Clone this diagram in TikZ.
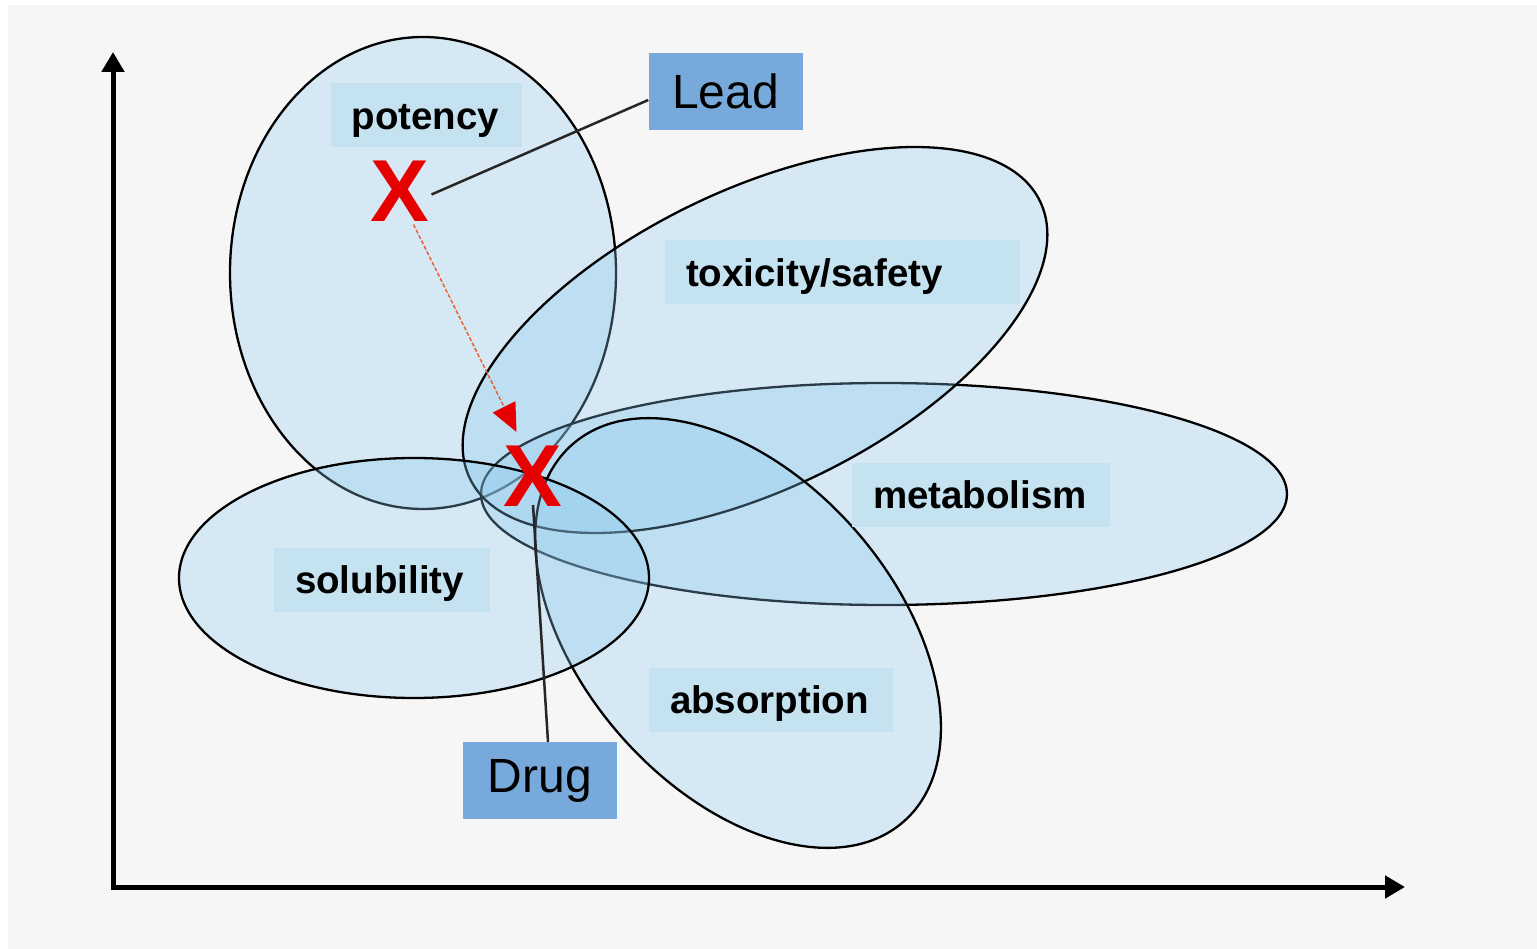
\documentclass[tikz,border=0pt]{standalone}
\usepackage{fontspec}
\setmainfont{Liberation Sans}
\usetikzlibrary{calc,arrows.meta}
\definecolor{bgc}{HTML}{F6F6F6}
\definecolor{ellc}{HTML}{8CCAEE}
\definecolor{lblc}{HTML}{C5E2F0}
\definecolor{boxc}{HTML}{77A9DA}
\definecolor{xred}{HTML}{E60000}
\definecolor{arrc}{HTML}{E8643C}
\begin{document}
\begin{tikzpicture}[x=1pt,y=-1pt,
  region/.style={draw=black, line width=2.3pt, fill=ellc, fill opacity=0.3},
  lbl/.style={fill=lblc, font=\fontsize{38.5}{46}\selectfont\bfseries, inner xsep=21pt, inner ysep=0pt, minimum height=64pt, text height=29pt, text depth=1.5pt, align=left},
  tag/.style={fill=boxc, font=\fontsize{48}{56}\selectfont, minimum width=154pt, minimum height=77pt, inner sep=0pt},
  cross/.style={text=xred, font=\fontsize{88}{96}\selectfont\bfseries, inner sep=0pt},
  axis/.style={line width=5pt, line join=miter, {Triangle[length=20pt,width=22pt]}-{Triangle[length=20pt,width=22pt]}},
  leader/.style={line width=2.5pt, draw=black!85},
  path/.style={draw=arrc, line width=1.5pt, dash pattern=on 4pt off 2pt, -{Triangle[length=28pt,width=25pt,color=xred]}}
]
\useasboundingbox (0,0) rectangle (1537,949);
\fill[white] (0,0) rectangle (1537,949);
\fill[bgc] (8,5) rectangle (1537,949);

% axes
\coordinate (ytop) at (113,52);
\coordinate (origin) at (113,887);
\coordinate (xend) at (1405,887);
\draw[axis] (ytop) -- (origin) -- (xend);

% regions
\path[region] (423,273) ellipse [x radius=193, y radius=236];
\path[region] (884,494) ellipse [x radius=403, y radius=111];
\path[region, rotate around={26:(755,340)}] (755,340) ellipse [x radius=317, y radius=149];
\path[region, rotate around={-48.7:(738,633)}] (738,633) ellipse [x radius=251, y radius=156];
\path[region] (414,578) ellipse [x radius=235, y radius=120];

% labels
\node[lbl, text width=149pt] (potency) at (426,115.5) {potency};
\node[lbl, text width=313pt] (tox) at (842.5,272.5) {toxicity/safety};
\node[lbl, text width=216pt] (metab) at (981,494.5) {metabolism};
\node[lbl, text width=174pt] (solub) at (382,579.5) {solubility};
\node[lbl, text width=202pt] (absorp) at (771,699.5) {absorption};

% tags
\node[tag] (lead) at (725.5,91.5) {Lead};
\node[tag] (drug) at (540,780.5) {Drug};

% crosses
\node[cross] (leadx) at (399.5,191.5) {X};
\node[cross] (drugx) at (532.5,476) {X};

% connectors
\draw[leader] ([yshift=-8.5pt]lead.west) -- ($(leadx.center)+(32,3)$);
\draw[leader] ([xshift=8pt]drug.north) -- ($(drugx.center)+(0.5,29)$);
\draw[path] ($(leadx.center)+(14,33)$) -- ($(drugx.center)+(-16,-44)$);
\end{tikzpicture}
\end{document}
